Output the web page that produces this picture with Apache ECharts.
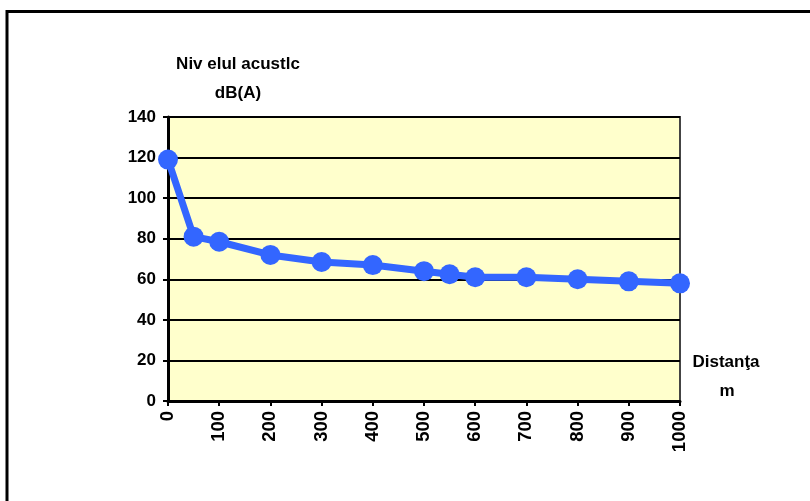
<!DOCTYPE html>
<html>
<head>
<meta charset="utf-8">
<script src="https://cdn.jsdelivr.net/npm/echarts@6/dist/echarts.min.js"></script>
<style>html,body{margin:0;padding:0;background:#fff;}#c{width:810px;height:501px;}</style>
</head>
<body>
<div id="c"></div>
<script>
const distances = [0, 50, 100, 200, 300, 400, 500, 550, 600, 700, 800, 900, 1000];
const levels = [119, 81, 78.5, 72, 68.5, 67, 64, 62.5, 61, 61, 60, 59, 58];
const yTitle1 = 'Niv elul acustlc';
const yTitle2 = 'dB(A)';
const xTitle1 = 'Distanţa';
const xTitle2 = 'm';

const chart = echarts.init(document.getElementById('c'), null, {renderer: 'canvas'});
const font = 'Liberation Sans, Arial, sans-serif';
chart.setOption({
  animation: false,
  backgroundColor: '#fff',
  grid: {left: 168, right: 130, top: 117, bottom: 100, show: true, backgroundColor: '#FFFFCC', borderColor: '#444', borderWidth: 2},
  xAxis: {
    type: 'value', min: 0, max: 1000, interval: 100,
    axisLine: {show: true, lineStyle: {color: '#000', width: 3}},
    axisTick: {show: true, length: 5, lineStyle: {color: '#000', width: 2}},
    splitLine: {show: false},
    axisLabel: {rotate: 90, color: '#000', fontWeight: 'bold', fontSize: 18.5, fontFamily: font, margin: 10, formatter: v => String(v)}
  },
  yAxis: {
    type: 'value', min: 0, max: 140, interval: 20,
    axisLine: {show: true, lineStyle: {color: '#000', width: 3}},
    axisTick: {show: true, length: 5, lineStyle: {color: '#000', width: 2}},
    splitLine: {show: true, lineStyle: {color: '#000', width: 2}},
    axisLabel: {color: '#000', fontWeight: 'bold', fontSize: 17, fontFamily: font, margin: 12}
  },
  graphic: [
    {type: 'line', shape: {x1: 7, y1: 11.5, x2: 810, y2: 11.5}, style: {stroke: '#000', lineWidth: 3}},
    {type: 'line', shape: {x1: 7, y1: 10, x2: 7, y2: 501}, style: {stroke: '#000', lineWidth: 3}},
    {type: 'text', x: 238, y: 64, style: {text: yTitle1, fill: '#000', font: 'bold 17px ' + font, textAlign: 'center', textVerticalAlign: 'middle'}},
    {type: 'text', x: 238, y: 93, style: {text: yTitle2, fill: '#000', font: 'bold 17px ' + font, textAlign: 'center', textVerticalAlign: 'middle'}},
    {type: 'text', x: 726, y: 362, style: {text: xTitle1, fill: '#000', font: 'bold 17px ' + font, textAlign: 'center', textVerticalAlign: 'middle'}},
    {type: 'text', x: 727, y: 391, style: {text: xTitle2, fill: '#000', font: 'bold 17px ' + font, textAlign: 'center', textVerticalAlign: 'middle'}}
  ],
  series: [{
    type: 'line',
    data: distances.map((d, i) => [d, levels[i]]),
    symbol: 'circle', symbolSize: 20,
    lineStyle: {color: '#3366FF', width: 7},
    itemStyle: {color: '#3366FF'},
    z: 5
  }]
});
</script>
</body>
</html>
